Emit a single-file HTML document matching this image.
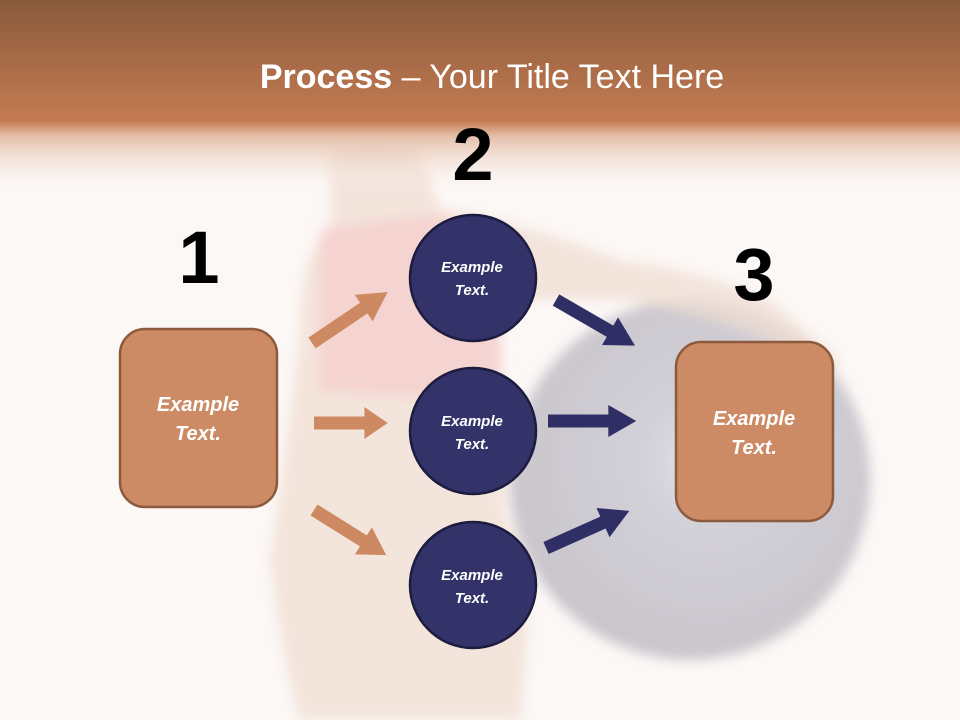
<!DOCTYPE html>
<html><head><meta charset="utf-8"><style>
html,body{margin:0;padding:0;width:960px;height:720px;overflow:hidden;background:#fcf8f6}
svg{display:block}
text{font-family:"Liberation Sans","DejaVu Sans",sans-serif}
</style></head><body>
<svg width="960" height="720" viewBox="0 0 960 720" xmlns="http://www.w3.org/2000/svg">
<defs>
<linearGradient id="hdr" x1="0" y1="0" x2="0" y2="1">
<stop offset="0" stop-color="#8a5a3c"/>
<stop offset="0.62" stop-color="#c47b52"/>
<stop offset="0.7" stop-color="#e2b9a2" stop-opacity="0.9"/>
<stop offset="1" stop-color="#fcf8f6" stop-opacity="0"/>
</linearGradient>
<radialGradient id="ball" cx="0.55" cy="0.45" r="0.6">
<stop offset="0" stop-color="#e4e6f0"/>
<stop offset="0.3" stop-color="#d2d0d8"/>
<stop offset="1" stop-color="#c8c4ca"/>
</radialGradient>
<filter id="blur"><feGaussianBlur stdDeviation="6"/></filter>
<g id="ao"><polygon points="0,-6.5 52,-6.5 52,-16 76,0 52,16 52,6.5 0,6.5"/></g>
</defs>
<rect width="960" height="720" fill="#fcf8f6"/>
<g filter="url(#blur)">
<circle cx="690" cy="480" r="180" fill="url(#ball)"/>
<path d="M330 150 Q360 130 420 150 L440 210 Q520 220 620 260 Q700 270 770 300 L840 360 L830 380 Q760 320 620 300 L500 300 L505 520 Q540 560 520 720 L300 720 Q280 650 270 560 Q290 420 300 330 Q300 250 330 230 Z" fill="#f0ddd3" opacity="0.75"/>
<path d="M320 230 Q380 220 440 215 L500 230 L500 390 Q420 400 320 390 Z" fill="#f6cccc" opacity="0.75"/>
</g>
<rect width="960" height="195" fill="url(#hdr)"/>
<text x="492" y="88" text-anchor="middle" font-size="34" fill="#fff"><tspan font-weight="bold">Process</tspan> – Your Title Text Here</text>
<text x="199" y="283" text-anchor="middle" font-size="74" font-weight="bold" fill="#000">1</text>
<text x="473" y="180" text-anchor="middle" font-size="74" font-weight="bold" fill="#000">2</text>
<text x="754" y="300" text-anchor="middle" font-size="74" font-weight="bold" fill="#000">3</text>
<g fill="#cd8a62">
<use href="#ao" transform="translate(312,343) rotate(-34) scale(1.2,1)"/>
<use href="#ao" transform="translate(314,423) scale(0.97,1)"/>
<use href="#ao" transform="translate(314,510) rotate(32) scale(1.12,1)"/>
</g>
<g fill="#2f2f66">
<use href="#ao" transform="translate(556,300) rotate(30) scale(1.2,1)"/>
<use href="#ao" transform="translate(548,421) scale(1.16,1)"/>
<use href="#ao" transform="translate(546,548) rotate(-24) scale(1.2,1)"/>
</g>
<rect x="120" y="329" width="157" height="178" rx="25" fill="#cd8b65" stroke="#8c5a3c" stroke-width="2.5"/>
<rect x="676" y="342" width="157" height="179" rx="25" fill="#cd8b65" stroke="#8c5a3c" stroke-width="2.5"/>
<g font-style="italic" font-weight="bold" fill="#fff" text-anchor="middle">
<text x="198" y="411" font-size="20">Example</text>
<text x="198" y="440" font-size="20">Text.</text>
<text x="754" y="425" font-size="20">Example</text>
<text x="754" y="454" font-size="20">Text.</text>
</g>
<g fill="#33336a" stroke="#1c1c3e" stroke-width="2.5">
<circle cx="473" cy="278" r="63"/>
<circle cx="473" cy="431" r="63"/>
<circle cx="473" cy="585" r="63"/>
</g>
<g font-style="italic" font-weight="bold" fill="#fff" text-anchor="middle" font-size="15">
<text x="472" y="272">Example</text><text x="472" y="295">Text.</text>
<text x="472" y="426">Example</text><text x="472" y="449">Text.</text>
<text x="472" y="580">Example</text><text x="472" y="603">Text.</text>
</g>
</svg>
</body></html>
